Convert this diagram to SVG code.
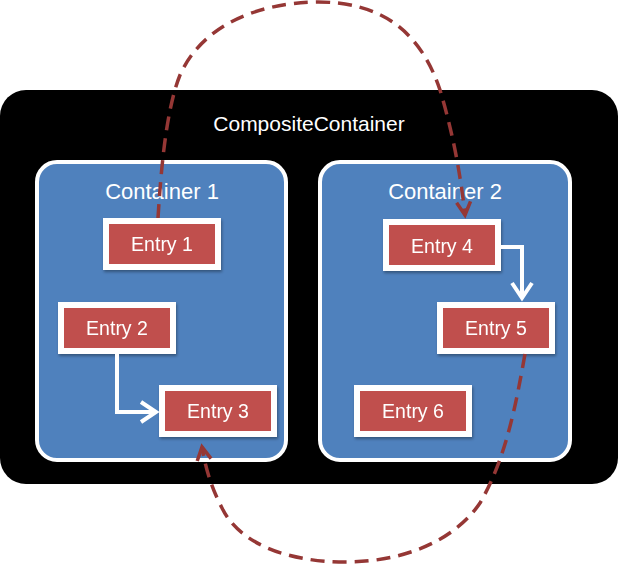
<svg xmlns="http://www.w3.org/2000/svg" width="618" height="565" viewBox="0 0 618 565">
<style>
.lbl{font-family:"Liberation Sans",Arial,sans-serif;fill:#fff;text-anchor:middle}
.cont{fill:#4F81BD;stroke:#fff;stroke-width:4}
.entry{fill:#C0504D;stroke:#fff;stroke-width:6}
.flow{fill:none;stroke:#fff;stroke-width:4;stroke-linejoin:miter}
.dash{fill:none;stroke:#953735;stroke-width:3.5;stroke-dasharray:14 8}
</style>
<defs>
<filter id="sh" x="-10%" y="-10%" width="130%" height="140%">
<feDropShadow dx="1" dy="2" stdDeviation="1.5" flood-color="#000" flood-opacity="0.35"/>
</filter>
<marker id="wa" markerUnits="userSpaceOnUse" markerWidth="1" markerHeight="1" refX="0" refY="0" orient="auto" overflow="visible">
<path d="M-15,-10 L0,0 L-15,10" fill="none" stroke="#fff" stroke-width="4"/>
</marker>
<marker id="ra" markerUnits="userSpaceOnUse" markerWidth="1" markerHeight="1" refX="0" refY="0" orient="auto" overflow="visible">
<path d="M-13,-7 L0,0 L-13,7" fill="none" stroke="#953735" stroke-width="3.5"/>
</marker>
</defs>
<g id="composite">
<rect x="0" y="90" width="618" height="394" rx="26" fill="#000"/>
<text class="lbl" x="309" y="131" font-size="21">CompositeContainer</text>
</g>
<g id="container1">
<rect class="cont" x="37" y="162" width="249" height="298" rx="20"/>
<text class="lbl" x="162" y="199" font-size="22">Container 1</text>
</g>
<g id="container2">
<rect class="cont" x="320" y="162" width="250" height="298" rx="20"/>
<text class="lbl" x="445" y="199" font-size="22">Container 2</text>
</g>
<g id="entry1" filter="url(#sh)">
<rect class="entry" x="106" y="221" width="112" height="46"/>
<text class="lbl" x="162" y="251" font-size="19.5">Entry 1</text>
</g>
<g id="entry2" filter="url(#sh)">
<rect class="entry" x="61" y="305" width="112" height="46"/>
<text class="lbl" x="117" y="335" font-size="19.5">Entry 2</text>
</g>
<g id="entry3" filter="url(#sh)">
<rect class="entry" x="162" y="388" width="112" height="46"/>
<text class="lbl" x="218" y="418" font-size="19.5">Entry 3</text>
</g>
<g id="entry4" filter="url(#sh)">
<rect class="entry" x="386" y="222" width="112" height="46"/>
<text class="lbl" x="442" y="253" font-size="19.5">Entry 4</text>
</g>
<g id="entry5" filter="url(#sh)">
<rect class="entry" x="440" y="305" width="112" height="46"/>
<text class="lbl" x="496" y="335" font-size="19.5">Entry 5</text>
</g>
<g id="entry6" filter="url(#sh)">
<rect class="entry" x="357" y="388" width="112" height="46"/>
<text class="lbl" x="413" y="418" font-size="19.5">Entry 6</text>
</g>
<g id="connectors">
<path class="flow" d="M117,354 L117,412 L156,412" marker-end="url(#wa)"/>
<path class="flow" d="M501,247 L522,247 L522,298" marker-end="url(#wa)"/>
<path class="dash" d="M158,218 C161,170 166,110 180,75 C200,30 250,3 318,2 C380,2 420,30 440,90 C452,130 460,170 465,215" marker-end="url(#ra)"/>
<path class="dash" d="M525,354 C515,410 505,460 480,503 C455,540 405,562 345,562 C290,562 240,545 222,508 C210,485 205,465 202,447" marker-end="url(#ra)"/>
</g>
</svg>
